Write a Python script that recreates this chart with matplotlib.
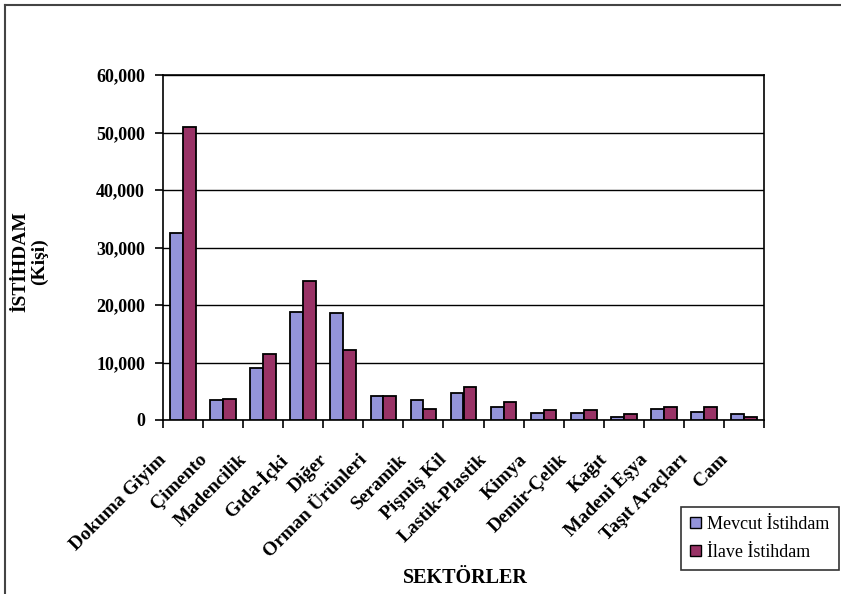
import matplotlib
matplotlib.use("Agg")
import matplotlib.pyplot as plt
import matplotlib.transforms as mtransforms
from matplotlib.lines import Line2D
from matplotlib.ticker import FuncFormatter, FixedLocator
import numpy as np

plt.rcParams['font.family'] = ['Liberation Serif', 'DejaVu Serif']

categories = ["Dokuma Giyim", "Çimento", "Madencilik", "Gıda-İçki", "Diğer",
              "Orman Ürünleri", "Seramik", "Pişmiş Kil", "Lastik-Plastik", "Kimya",
              "Demir-Çelik", "Kağıt", "Madeni Eşya", "Taşıt Araçları", "Cam"]
mevcut = [32500, 3400, 9100, 18800, 18600, 4200, 3400, 4750, 2300, 1150,
          1150, 600, 2000, 1450, 1000]
ilave = [51000, 3650, 11500, 24100, 12100, 4200, 2000, 5800, 3100, 1750,
         1750, 1000, 2300, 2300, 600]
series_names = ["Mevcut İstihdam", "İlave İstihdam"]
yticks = [0, 10000, 20000, 30000, 40000, 50000, 60000]

c_mev = '#9494DA'
c_ila = '#993366'

fig = plt.figure(figsize=(8.41, 5.94), dpi=100)
ax = fig.add_axes([163/841, 1-420/594, (764-163)/841, (420-75)/594])

x = np.arange(len(categories))
w = 0.32
ax.bar(x - w/2, mevcut, w, color=c_mev, edgecolor='black', linewidth=1.3, zorder=3)
ax.bar(x + w/2, ilave, w, color=c_ila, edgecolor='black', linewidth=1.3, zorder=3)

ax.set_xlim(-0.5, len(categories) - 0.5)
ax.set_ylim(0, 60000)
ax.set_yticks(yticks)
ax.yaxis.set_major_formatter(FuncFormatter(lambda v, p: f"{int(v):,}"))
ax.grid(axis='y', color='black', linewidth=1, zorder=0)
for s in ax.spines.values():
    s.set_linewidth(1.2)
    s.set_color('black')

# category ticks at boundaries, labels at centres
ax.xaxis.set_major_locator(FixedLocator(np.arange(-0.5, len(categories), 1.0)))
ax.xaxis.set_major_formatter(FuncFormatter(lambda v, p: ""))
ax.set_xticks(x, minor=True)
ax.set_xticklabels(categories, minor=True, rotation=45, ha='right',
                   rotation_mode='anchor', fontsize=14, fontweight='bold')
ax.tick_params(axis='x', which='minor', length=0, pad=0)
ax.tick_params(axis='x', which='major', length=6, width=1.2, direction='out')
ax.tick_params(axis='y', length=6, width=1.2, direction='out', pad=7)
for lab in ax.get_yticklabels():
    lab.set_fontsize(13)
    lab.set_fontweight('bold')

off = mtransforms.ScaledTranslation(-19/100, -37/100, fig.dpi_scale_trans)
for lab in ax.xaxis.get_minorticklabels():
    lab.set_transform(lab.get_transform() + off)
    lab.set_va('center')

fig.text(30/841, 1-262/594, "İSTİHDAM\n(Kişi)", rotation=90, ha='center',
         va='center', fontsize=14, fontweight='bold', linespacing=1.1)
fig.text(465/841, 1-578/594, "SEKTÖRLER", ha='center', va='center',
         fontsize=14.5, fontweight='bold')

handles = [plt.Rectangle((0, 0), 1, 1, facecolor=c_mev, edgecolor='black', linewidth=1),
           plt.Rectangle((0, 0), 1, 1, facecolor=c_ila, edgecolor='black', linewidth=1)]
leg = fig.legend(handles, series_names, loc='upper left',
                 bbox_to_anchor=(681/841, 1-507/594), fontsize=13,
                 frameon=True, fancybox=False, edgecolor='black',
                 handlelength=0.6, handleheight=0.6, handletextpad=0.35,
                 borderpad=0.5, labelspacing=0.6, borderaxespad=0)
leg.get_frame().set_linewidth(1.2)

# outer chart border (left and top)
fig.add_artist(Line2D([5/841, 5/841], [0, 1-5/594], transform=fig.transFigure,
                      color='#444444', linewidth=1.5))
fig.add_artist(Line2D([5/841, 1], [1-5/594, 1-5/594], transform=fig.transFigure,
                      color='#444444', linewidth=1.5))

fig.savefig("out.png", dpi=100)
